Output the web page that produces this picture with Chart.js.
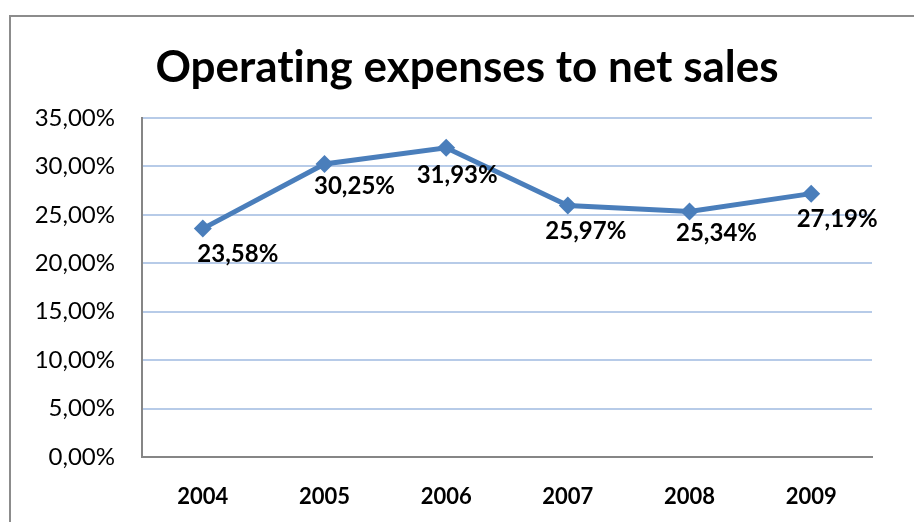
<!DOCTYPE html>
<html>
<head>
<meta charset="utf-8">
<script src="https://cdn.jsdelivr.net/npm/chart.js@4"></script>
<style>
  html, body { margin: 0; padding: 0; background: #fff; }
  #wrap { position: relative; width: 914px; height: 522px; overflow: hidden; }
  #frame { position: absolute; left: 9px; top: 15px; width: 1000px; height: 600px; border: 2px solid #8c8c8c; box-sizing: border-box; }
  canvas { position: absolute; left: 0; top: 0; }
</style>
</head>
<body>
<div id="wrap">
  <div id="frame"></div>
  <canvas id="chart" width="914" height="522"></canvas>
</div>
<script>
// dados do gráfico
const chartTitle = 'Operat\u200Cing expenses to net sales'; // ZWNJ evita a ligadura "ti" do Lato
const years = ['2004', '2005', '2006', '2007', '2008', '2009'];
const expenseRatio = [23.58, 30.25, 31.93, 25.97, 25.34, 27.19];
const yTickLabels = ['0,00%', '5,00%', '10,00%', '15,00%', '20,00%', '25,00%', '30,00%', '35,00%'];

const FONT = 'Lato, "Open Sans", sans-serif';

// título desenhado à parte, centrado na moldura e não na área do gráfico
const centeredTitle = {
    id: 'centeredTitle',
    afterDraw(chart, args, opts) {
        const ctx = chart.ctx;
        ctx.save();
        ctx.font = 'bold 44px ' + FONT;
        ctx.fillStyle = '#000';
        ctx.textAlign = 'center';
        ctx.textBaseline = 'middle';
        ctx.fillText(opts.text, opts.x, opts.y);
        ctx.restore();
    }
};

// rótulos de dados desenhados à mão (posições deslocadas como no original)
const pointLabels = {
    id: 'pointLabels',
    afterDatasetsDraw(chart, args, opts) {
        const ctx = chart.ctx;
        const meta = chart.getDatasetMeta(0);
        ctx.save();
        ctx.font = 'bold 24px ' + FONT;
        ctx.fillStyle = '#000';
        ctx.textAlign = 'center';
        ctx.textBaseline = 'middle';
        meta.data.forEach((pt, i) => {
            const v = chart.data.datasets[0].data[i];
            const off = opts.offsets[i];
            ctx.fillText(v.toFixed(2).replace('.', ',') + '%', pt.x + off[0], pt.y + off[1]);
        });
        ctx.restore();
    }
};

new Chart(document.getElementById('chart').getContext('2d'), {
    type: 'line',
    data: {
        labels: years,
        datasets: [{
            data: expenseRatio,
            borderColor: '#4a7ebb',
            backgroundColor: '#4a7ebb',
            borderWidth: 5,
            pointStyle: 'rectRot',
            pointRadius: 9,
            pointBorderWidth: 0,
            tension: 0
        }]
    },
    options: {
        responsive: false,
        animation: false,
        layout: { padding: { left: 0, right: 42, top: 118, bottom: 0 } },
        plugins: {
            legend: { display: false },
            tooltip: { enabled: false },
            title: { display: false },
            centeredTitle: { text: chartTitle, x: 467, y: 68 },
            pointLabels: {
                offsets: [[35, 26], [30, 22], [11, 28], [18, 26], [27, 22], [26, 26]]
            }
        },
        scales: {
            x: {
                offset: true,
                grid: { display: false, drawTicks: false },
                border: { display: true, color: '#868686', width: 2 },
                ticks: {
                    color: '#000',
                    padding: 27,
                    font: { family: FONT, size: 22, weight: 'bold' }
                },
                afterFit(scale) { scale.height = 65; }
            },
            y: {
                min: 0,
                max: 35,
                grid: { color: '#b7cbe8', lineWidth: 2, drawTicks: false },
                border: { display: true, color: '#868686', width: 2 },
                ticks: {
                    stepSize: 5,
                    color: '#000',
                    padding: 27,
                    font: { family: FONT, size: 24 },
                    callback: (value, index) => yTickLabels[index]
                },
                afterFit(scale) { scale.width = 142; }
            }
        }
    },
    plugins: [centeredTitle, pointLabels]
});
</script>
</body>
</html>
